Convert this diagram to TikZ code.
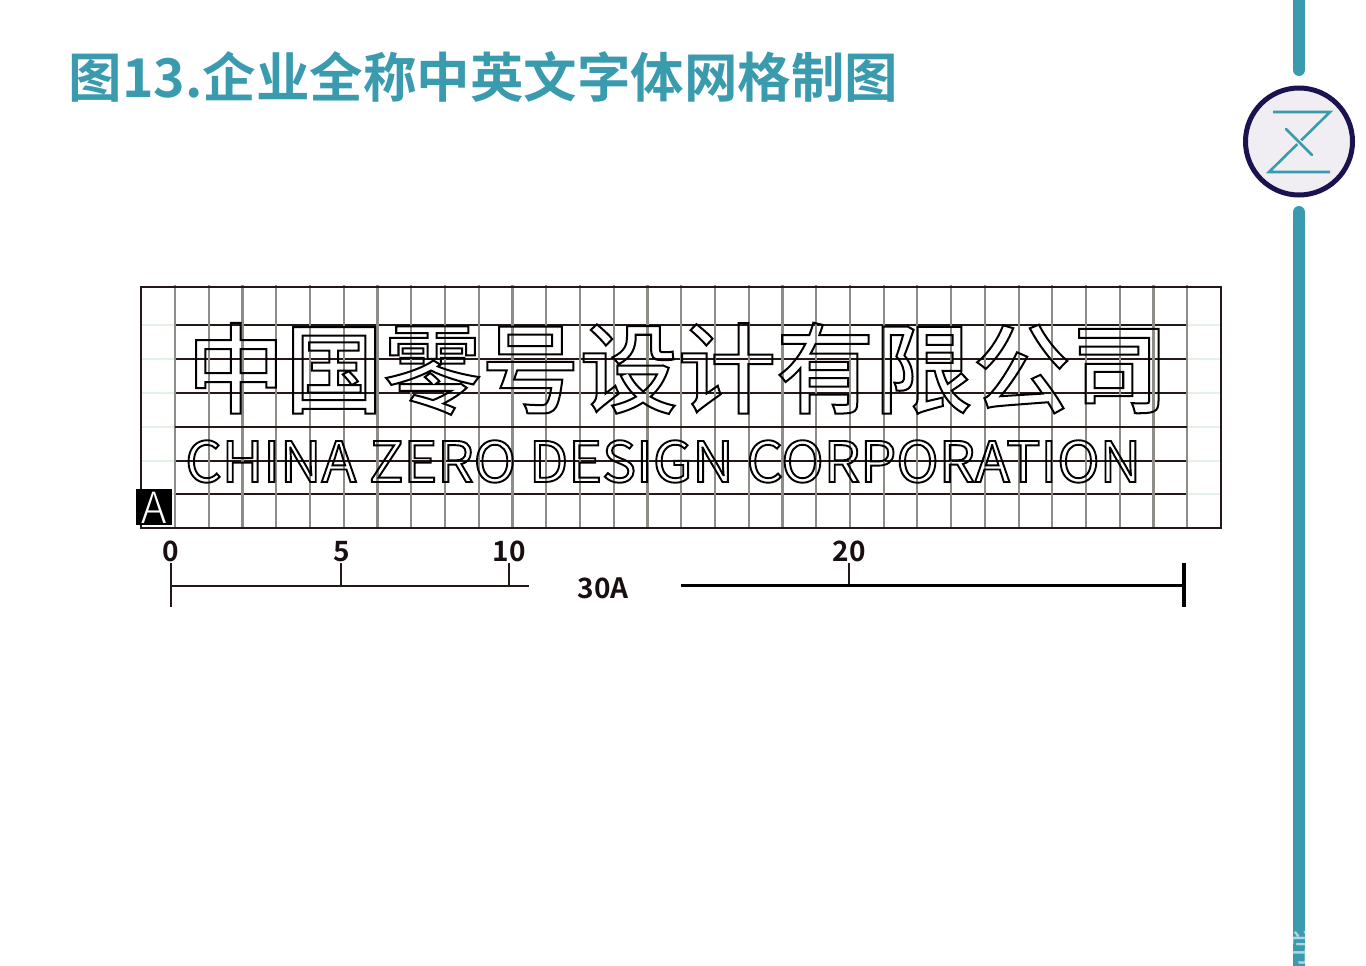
\documentclass[tikz,border=0pt]{standalone}
\usepackage{fontspec}
\setmainfont{Noto Sans CJK SC}
\newfontfamily\cjkb{Noto Sans CJK SC Bold}
\newfontfamily\cjkm{Noto Sans CJK SC Medium}
\newfontfamily\cjkl{Noto Sans CJK SC Light}
\newfontfamily\enfont[FakeStretch=1.022]{Noto Sans CJK SC}
\definecolor{teal1}{HTML}{3A9AAE}
\definecolor{navy1}{HTML}{1B1350}
\definecolor{disc1}{HTML}{F0EEF2}
\definecolor{ink1}{HTML}{231815}
\definecolor{lab1}{HTML}{1A0F10}
\definecolor{grid1}{HTML}{8E8E88}
\definecolor{mint1}{HTML}{E4F1E8}
\newcommand{\outl}[2]{\special{pdf:code q 1 Tr #1 w}#2\special{pdf:code Q}}
\tikzset{
  x=1pt,y=-1pt,
  vline/.style={draw=grid1,line width=2.2pt},
  hline/.style={draw=ink1,line width=2pt},
  mintline/.style={draw=mint1,line width=1.2pt},
  scalelabel/.style={font=\cjkb\fontsize{28}{28}\selectfont,text=lab1,inner sep=0pt,anchor=base},
  scalethin/.style={draw=ink1,line width=2pt},
  scalethick/.style={draw=black,line width=3.4pt},
  barline/.style={draw=teal1,line width=12pt,line cap=round},
  logoline/.style={draw=teal1,line width=2.6pt},
}
\begin{document}
\begin{tikzpicture}
\useasboundingbox (0,0) rectangle (1366,966);
% title
\node[anchor=base west,inner sep=0pt,text=teal1,font=\cjkb\fontsize{53.5}{54}\selectfont] (title) at (68.5,98) {图13.企业全称中英文字体网格制图};
% side bar
\coordinate (b1) at (1299,-20);
\coordinate (b2) at (1299,70);
\coordinate (b3) at (1299,212);
\coordinate (b4) at (1299,986);
\draw[barline] (b1) -- (b2);
\draw[barline] (b3) -- (b4);
\node[anchor=base,inner sep=0pt,text=white,opacity=.6,font=\fontsize{36}{36}\selectfont] (wm) at (1306,961) {学};
% logo
\node[circle,draw=navy1,fill=disc1,line width=5pt,minimum size=107pt,inner sep=0pt] (disc) at (1299,141.5) {};
\coordinate (z1) at (1273,112);
\coordinate (z2) at (1330,112);
\coordinate (z3) at (1269,172);
\coordinate (z4) at (1330,172);
\coordinate (z5) at (1286,129);
\coordinate (z6) at (1312,155);
\draw[logoline,line join=miter] (z1) -- (z2) -- (z3) -- (z4);
\draw[draw=disc1,line width=5pt] (1296,139) -- (1302,145);
\draw[logoline,line cap=round] (z5) -- (z6);
% frame and grid
\foreach \y in {325,359,393,427,461,494}{
  \draw[mintline] (141,\y) -- (1221,\y);
  \draw[hline] (175,\y) -- (1187.3,\y);
}
\foreach \i in {0,...,30}{
  \draw[vline] ({175+33.744*\i},285) -- ({175+33.744*\i},528);
}
\draw[draw=ink1,line width=2.6pt] (175,427) -- (1187.3,427);
\node[draw=ink1,line width=2pt,outer sep=0pt,minimum width=1080pt,minimum height=241pt,inner sep=0pt,anchor=north west] (frame) at (141,287) {};
% outlined lettering
\foreach \c [count=\n from 0] in {中,国,零,号,设,计,有,限,公,司}{
  \node[anchor=base,inner sep=0pt,font=\cjkm\fontsize{98}{98}\selectfont] (c\n) at ({236+98.2*\n},405.5) {\outl{2}{\c}};
}
\node[anchor=base west,inner sep=0pt,font=\enfont\fontsize{56}{56}\selectfont] (en) at (185,482) {\outl{1.9}{CHINA ZERO DESIGN CORPORATION}};
% A box
\node[fill=black,text=white,minimum size=36pt,inner sep=0pt,outer sep=0pt,anchor=north west] (abox) at (136,489) {};
\node[anchor=base,inner sep=0pt,text=white,font=\cjkl\fontsize{43}{43}\selectfont] (alabel) at (154.5,523) {A};
% scale
\coordinate (s0t) at (170.5,563);
\coordinate (s0b) at (170.5,607);
\coordinate (s0m) at (170.5,585.5);
\coordinate (s5t) at (341,563);
\coordinate (s5m) at (341,585.5);
\coordinate (s10t) at (509,563);
\coordinate (s10m) at (509,585.5);
\coordinate (s20t) at (849,563);
\coordinate (s20m) at (849,585.5);
\coordinate (sl) at (529,585.5);
\coordinate (sr) at (681,585.5);
\coordinate (se) at (1184,585.5);
\coordinate (set) at (1184,563);
\coordinate (seb) at (1184,607);
\draw[scalethin] (s0t) -- (s0b);
\draw[scalethin] (s0m) -- (sl);
\draw[scalethin] (s5t) -- (s5m);
\draw[scalethin] (s10t) -- (s10m);
\draw[scalethin] (s20t) -- (s20m);
\draw[scalethick] (sr) -- (se);
\draw[draw=black,line width=4pt] (set) -- (seb);
\node[scalelabel] (l0) at (170.5,561) {0};
\node[scalelabel] (l5) at (342,561) {5};
\node[scalelabel] (l10) at (509,561) {10};
\node[scalelabel] (l20) at (849,561) {20};
\node[scalelabel] (l30) at (603,598.5) {30A};
\end{tikzpicture}
\end{document}
